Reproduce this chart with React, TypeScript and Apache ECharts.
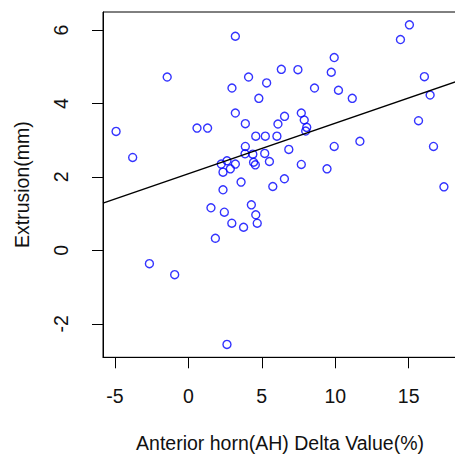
import React, { useEffect, useRef } from "react";
import * as echarts from "echarts";

// Scatter data: Anterior horn (AH) delta value (%) vs extrusion (mm)
const deltaValues: number[] = [
  -4.92, -3.79, -2.65, -1.44, -0.93, 0.59, 1.31, 1.54, 1.84, 2.24,
  2.36, 2.36, 2.45, 2.63, 2.63, 2.96, 2.86, 2.97, 3.2, 3.2,
  3.2, 3.59, 3.76, 3.88, 3.88, 3.86, 4.1, 4.29, 4.39, 4.44,
  4.56, 4.59, 4.59, 4.69, 4.8, 5.2, 5.24, 5.33, 5.52, 5.75,
  6.03, 6.1, 6.33, 6.55, 6.54, 6.84, 7.46, 7.69, 7.69, 7.89,
  8.06, 7.99, 8.59, 9.44, 9.73, 9.93, 9.93, 10.22, 11.16, 11.68,
  14.44, 15.05, 15.67, 16.07, 16.46, 16.69, 17.4,
];
const extrusionValues: number[] = [
  3.24, 2.53, -0.36, 4.72, -0.66, 3.33, 3.33, 1.16, 0.33, 2.35,
  2.13, 1.65, 1.04, 2.44, -2.56, 0.74, 2.22, 4.42, 2.35, 5.83,
  3.74, 1.86, 0.63, 3.45, 2.83, 2.63, 4.72, 1.24, 2.62, 2.4,
  2.33, 3.11, 0.97, 0.74, 4.14, 2.64, 3.11, 4.56, 2.42, 1.74,
  3.11, 3.44, 4.93, 3.65, 1.95, 2.75, 4.92, 3.74, 2.34, 3.55,
  3.35, 3.25, 4.42, 2.22, 4.85, 5.25, 2.83, 4.36, 4.14, 2.97,
  5.74, 6.14, 3.53, 4.73, 4.23, 2.83, 1.73,
];

// Fitted regression line
const fitIntercept = 2.088;
const fitSlope = 0.1375;

// Axis extents and tick labels
const xRange: [number, number] = [-5.81, 18.29];
const yRange: [number, number] = [-2.91, 6.49];
const xTicks: number[] = [-5, 0, 5, 10, 15];
const yTicks: number[] = [-2, 0, 2, 4, 6];

const xTitle = "Anterior horn(AH) Delta Value(%)";
const yTitle = "Extrusion(mm)";

const FONT = "'Liberation Sans', Arial, Helvetica, sans-serif";
const TEXT_COLOR = "#111";
const FONT_SIZE = 19.5;

export default function App() {
  const ref = useRef<HTMLDivElement | null>(null);

  useEffect(() => {
    if (!ref.current) return;
    const chart = echarts.init(ref.current, undefined, { renderer: "svg" });

    const points = deltaValues.map((x, i) => [x, extrusionValues[i]]);
    const fitLine = xRange.map((x) => [x, fitIntercept + fitSlope * x]);

    chart.setOption({
      animation: false,
      backgroundColor: "#ffffff",
      grid: {
        left: 103,
        top: 12,
        width: 354,
        height: 345.3,
        show: true,
        borderColor: "#000",
        borderWidth: 1,
        backgroundColor: "transparent",
        containLabel: false,
        outerBoundsMode: "none",
      },
      xAxis: {
        type: "value",
        min: xRange[0],
        max: xRange[1],
        name: xTitle,
        nameLocation: "middle",
        nameGap: 77,
        nameTextStyle: {
          fontFamily: FONT,
          fontSize: FONT_SIZE,
          lineHeight: 18,
          color: TEXT_COLOR,
        },
        axisLine: { show: true, onZero: false, lineStyle: { color: "#000", width: 1 } },
        axisTick: {
          show: true,
          inside: false,
          length: 11,
          customValues: xTicks,
          lineStyle: { color: "#000", width: 1 },
        },
        axisLabel: {
          show: true,
          customValues: xTicks,
          margin: 29,
          fontFamily: FONT,
          fontSize: FONT_SIZE,
          color: TEXT_COLOR,
        },
        splitLine: { show: false },
      },
      yAxis: {
        type: "value",
        min: yRange[0],
        max: yRange[1],
        name: yTitle,
        nameLocation: "middle",
        nameGap: 71,
        nameRotate: 90,
        nameTextStyle: { fontFamily: FONT, fontSize: FONT_SIZE, color: TEXT_COLOR },
        axisLine: { show: true, onZero: false, lineStyle: { color: "#000", width: 1 } },
        axisTick: {
          show: true,
          inside: false,
          length: 11,
          customValues: yTicks,
          lineStyle: { color: "#000", width: 1 },
        },
        axisLabel: {
          show: true,
          customValues: yTicks,
          rotate: 90,
          margin: 32,
          fontFamily: FONT,
          fontSize: FONT_SIZE,
          color: TEXT_COLOR,
        },
        splitLine: { show: false },
      },
      series: [
        {
          type: "scatter",
          data: points,
          symbol: "circle",
          symbolSize: 8,
          itemStyle: {
            color: "rgba(0,0,0,0)",
            borderColor: "#0000ff",
            borderWidth: 1.4,
          },
          emphasis: { disabled: true },
        },
        {
          type: "line",
          data: fitLine,
          symbol: "none",
          lineStyle: { color: "#000", width: 1.4 },
          emphasis: { disabled: true },
        },
      ],
    });

    return () => {
      chart.dispose();
    };
  }, []);

  return (
    <div
      ref={ref}
      style={{
        position: "fixed",
        left: 0,
        top: 0,
        width: 455,
        height: 454,
        background: "#fff",
      }}
    />
  );
}
